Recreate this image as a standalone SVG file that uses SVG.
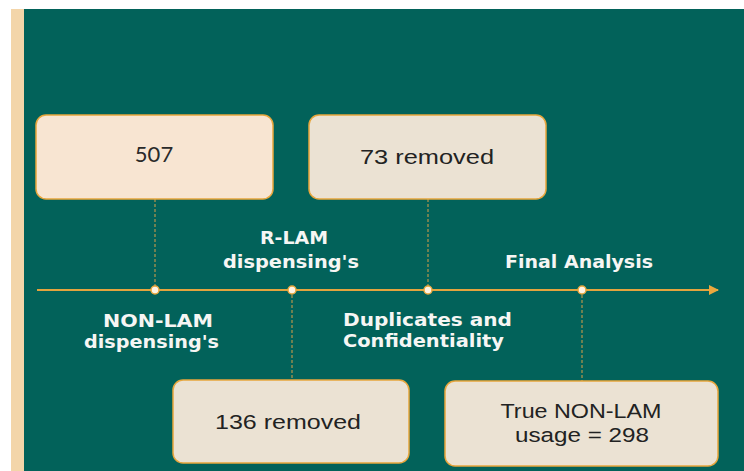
<svg xmlns="http://www.w3.org/2000/svg" width="744" height="471" viewBox="0 0 744 471">
  <defs>
    <style>
      .box { stroke: #e8a63c; stroke-width: 1.5; }
      .warm { fill: #f8e5d2; }
      .pale { fill: #ebe2d3; }
      .btxt { font-family: "Liberation Sans", "DejaVu Sans", sans-serif; font-size: 20.5px; fill: #222; text-anchor: middle; }
      .num { font-family: Lato, "Liberation Sans", sans-serif; font-size: 22px; fill: #2a2a2a; text-anchor: middle; }
      .lbl { font-family: "DejaVu Sans", "Liberation Sans", sans-serif; font-weight: bold; font-size: 18px; fill: #f6f6f4; }
      .dash { stroke: #d9a048; stroke-width: 1; stroke-dasharray: 3 2; fill: none; }
      .axis { stroke: #e3a43e; stroke-width: 2; fill: none; }
      .dot { fill: #fff4e4; stroke: #e8a63c; stroke-width: 1.5; }
    </style>
    <marker id="head" viewBox="0 0 10 10" refX="9" refY="5" markerWidth="16" markerHeight="10" markerUnits="userSpaceOnUse" orient="auto">
      <path d="M0,0 L10,5 L0,10 Z" fill="#eaa83e"/>
    </marker>
  </defs>

  <!-- page background -->
  <rect x="0" y="0" width="744" height="471" fill="#ffffff"/>
  <rect x="11" y="9" width="13" height="462" fill="#f3d5a9"/>
  <rect x="24" y="9" width="720" height="462" fill="#02625a"/>

  <!-- connectors -->
  <g id="connectors">
    <line class="axis" x1="37" y1="290" x2="718" y2="290" marker-end="url(#head)"/>
    <line class="dash" x1="155" y1="199" x2="155" y2="290"/>
    <line class="dash" x1="428" y1="199" x2="428" y2="290"/>
    <line class="dash" x1="292" y1="290" x2="292" y2="380"/>
    <line class="dash" x1="582" y1="290" x2="582" y2="381"/>
    <circle class="dot" cx="155" cy="290" r="4"/>
    <circle class="dot" cx="292" cy="290" r="4"/>
    <circle class="dot" cx="428" cy="290" r="4"/>
    <circle class="dot" cx="582" cy="290" r="4"/>
  </g>

  <g id="node-507">
    <rect class="box warm" x="36" y="115" width="237" height="84" rx="10"/>
    <text class="num" x="154" y="162">507</text>
  </g>

  <g id="node-73">
    <rect class="box pale" x="309" y="115" width="237" height="84" rx="10"/>
    <text class="btxt" x="427" y="164" textLength="134" lengthAdjust="spacingAndGlyphs">73 removed</text>
  </g>

  <g id="node-136">
    <rect class="box pale" x="173" y="380" width="236" height="83" rx="10"/>
    <text class="btxt" x="288" y="429" textLength="146" lengthAdjust="spacingAndGlyphs">136 removed</text>
  </g>

  <g id="node-final">
    <rect class="box pale" x="445" y="381" width="273" height="85" rx="10"/>
    <text class="btxt" x="581" y="418" textLength="161" lengthAdjust="spacingAndGlyphs">True NON-LAM</text>
    <text class="btxt" x="582" y="442" textLength="134" lengthAdjust="spacingAndGlyphs">usage = 298</text>
  </g>

  <g id="label-nonlam">
    <text class="lbl" x="103" y="327" textLength="110" lengthAdjust="spacingAndGlyphs">NON-LAM</text>
    <text class="lbl" x="84" y="348" textLength="135" lengthAdjust="spacingAndGlyphs">dispensing's</text>
  </g>

  <g id="label-rlam">
    <text class="lbl" x="260" y="244" textLength="68" lengthAdjust="spacingAndGlyphs">R-LAM</text>
    <text class="lbl" x="223" y="268" textLength="136" lengthAdjust="spacingAndGlyphs">dispensing's</text>
  </g>

  <g id="label-duplicates">
    <text class="lbl" x="343" y="326" textLength="169" lengthAdjust="spacingAndGlyphs">Duplicates and</text>
    <text class="lbl" x="343" y="347" textLength="161" lengthAdjust="spacingAndGlyphs">Confidentiality</text>
  </g>

  <g id="label-final">
    <text class="lbl" x="505" y="268" textLength="148" lengthAdjust="spacingAndGlyphs">Final Analysis</text>
  </g>
</svg>
